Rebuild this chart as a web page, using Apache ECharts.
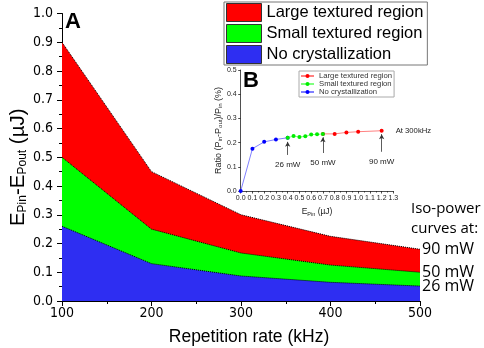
<!DOCTYPE html>
<html>
<head>
<meta charset="utf-8">
<script src="https://cdn.jsdelivr.net/npm/echarts@6/dist/echarts.min.js"></script>
<style>
html, body { margin: 0; padding: 0; background: #fff; }
#chart { width: 484px; height: 348px; }
</style>
</head>
<body>
<div id="chart"></div>
<script>
// panel A - iso-power boundaries (uJ) vs repetition rate (kHz)
var repRate = [100, 200, 300, 400, 500];
var largeTop = [0.9, 0.45, 0.3, 0.225, 0.18];
var smallTop = [0.5, 0.25, 0.167, 0.125, 0.1];
var noCrystTop = [0.26, 0.13, 0.087, 0.065, 0.052];
var isoLabels = ['90 mW', '50 mW', '26 mW'];
var regionNames = ['Large textured region', 'Small textured region', 'No crystallization'];

// panel B - ratio (%) vs pulse energy (uJ), at 300 kHz
var bNoE = [0, 0.1, 0.2, 0.3, 0.4];
var bNoR = [0, 0.175, 0.203, 0.213, 0.22];
var bSmallE = [0.4, 0.45, 0.5, 0.55, 0.6, 0.65, 0.7];
var bSmallR = [0.22, 0.227, 0.223, 0.226, 0.233, 0.234, 0.236];
var bLargeE = [0.7, 0.8, 0.9, 1.0, 1.2];
var bLargeR = [0.236, 0.236, 0.242, 0.245, 0.249];
var arrowE = [0.4, 0.7, 1.2];
var arrowFrom = [0.149, 0.157, 0.162];
var arrowTo = [0.203, 0.222, 0.235];
var arrowText = ['26 mW', '50 mW', '90 mW'];

var FONT = 'Liberation Sans';
var TICKFONT = '"Liberation Sans Narrow", "DejaVu Sans Condensed", "Liberation Sans"';

var chart = echarts.init(document.getElementById('chart'));

function areaSeries(name, vals, color, label, z) {
    return {
        name: name,
        type: 'line',
        xAxisIndex: 0,
        yAxisIndex: 0,
        data: repRate.map(function (x, i) { return [x, vals[i]]; }),
        symbol: 'none',
        color: color,
        lineStyle: { color: '#000', width: 1, type: 'dotted' },
        areaStyle: { color: color, opacity: 1 },
        endLabel: {
            show: true, formatter: label, distance: 2,
            fontFamily: 'Open Sans', fontSize: 16, color: '#000'
        },
        z: z
    };
}

function insetSeries(name, es, rs, dot, line, z) {
    return {
        name: 'B ' + name,
        type: 'line',
        xAxisIndex: 1,
        yAxisIndex: 1,
        data: es.map(function (e, i) { return [e, rs[i]]; }),
        symbol: 'circle',
        symbolSize: 4,
        itemStyle: { color: dot },
        lineStyle: { color: line, width: 1 },
        z: z
    };
}

var insetLarge = insetSeries(regionNames[0], bLargeE, bLargeR, '#ff0000', '#ff8080', 10);
// last point carries the note
insetLarge.data[insetLarge.data.length - 1] = {
    value: insetLarge.data[insetLarge.data.length - 1],
    label: { show: true, position: 'right', distance: 12, formatter: 'At 300kHz', fontFamily: FONT, fontSize: 7.7, color: '#222' }
};
insetLarge.markLine = {
    silent: true,
    symbol: ['none', 'arrow'],
    symbolSize: [4, 5],
    lineStyle: { color: '#333', width: 0.8, type: 'solid' },
    label: { show: true, position: 'start', distance: 6, formatter: '{b}', fontFamily: FONT, fontSize: 8, color: '#222' },
    data: arrowE.map(function (e, i) {
        return [{ name: arrowText[i], coord: [e, arrowFrom[i]] }, { coord: [e, arrowTo[i]] }];
    })
};

var axisBlack = { lineStyle: { color: '#000', width: 1 } };

chart.setOption({
    animation: false,
    textStyle: { fontFamily: FONT },
    grid: [
        { left: 62, right: 64, top: 13.5, bottom: 47, outerBoundsMode: 'none', containLabel: false },
        { left: 240.7, right: 90.6, top: 70, bottom: 157, outerBoundsMode: 'none', containLabel: false }
    ],
    legend: [{
        orient: 'vertical',
        left: 224, top: 2,
        data: regionNames,
        icon: 'rect',
        itemWidth: 35, itemHeight: 18, itemGap: 2,
        padding: [1, 4, 1, 2],
        borderColor: '#777', borderWidth: 1,
        itemStyle: { borderColor: '#333', borderWidth: 1 },
        textStyle: { fontSize: 16.5, color: '#000', fontFamily: FONT },
        selectedMode: false
    }, {
        orient: 'vertical',
        left: 299, top: 71,
        data: regionNames.map(function (n) { return 'B ' + n; }),
        formatter: function (n) { return n.replace(/^B /, ''); },
        itemWidth: 13, itemHeight: 5, itemGap: 0,
        padding: [1, 2, 1, 1],
        borderColor: '#aaa', borderWidth: 1,
        textStyle: { fontSize: 7.7, lineHeight: 8, color: '#333', fontFamily: FONT },
        selectedMode: false
    }],
    xAxis: [{
        type: 'value', gridIndex: 0,
        min: 100, max: 500, interval: 100,
        axisLine: axisBlack,
        axisTick: { length: 5, lineStyle: { color: '#000' } },
        minorTick: { show: true, splitNumber: 2, length: 3, lineStyle: { color: '#000' } },
        splitLine: { show: false },
        axisLabel: { fontSize: 14, color: '#000', margin: 5, fontFamily: TICKFONT },
        name: 'Repetition rate (kHz)',
        nameLocation: 'middle',
        nameGap: 27,
        nameTextStyle: { fontSize: 17.5, color: '#000', padding: [0, 0, 0, 16] }
    }, {
        type: 'value', gridIndex: 1,
        min: 0, max: 1.3, interval: 0.1,
        axisLine: { lineStyle: { color: '#222', width: 0.8 } },
        axisTick: { length: 2.5, lineStyle: { color: '#222', width: 0.8 } },
        minorTick: { show: true, splitNumber: 2, length: 1.5, lineStyle: { color: '#222', width: 0.8 } },
        splitLine: { show: false },
        axisLabel: { fontSize: 7, color: '#222', margin: 4, formatter: function (v) { return v.toFixed(1); } },
        name: '{n|E}{s|Pin}{n| (µJ)}',
        nameLocation: 'middle',
        nameGap: 16,
        nameTextStyle: {
            rich: {
                n: { fontSize: 8.5, color: '#222', fontFamily: FONT },
                s: { fontSize: 5.5, color: '#222', fontFamily: FONT, verticalAlign: 'bottom', padding: [4, 0, 0, 0] }
            }
        }
    }],
    yAxis: [{
        type: 'value', gridIndex: 0,
        min: 0, max: 1, interval: 0.1,
        axisLine: axisBlack,
        axisTick: { length: 5, lineStyle: { color: '#000' } },
        minorTick: { show: true, splitNumber: 2, length: 3, lineStyle: { color: '#000' } },
        splitLine: { show: false },
        axisLabel: { fontSize: 14, color: '#000', margin: 9, fontFamily: TICKFONT, formatter: function (v) { return v.toFixed(1); } },
        name: '{n|E}{s|Pin}{n|-E}{s|Pout}{n| (µJ)}',
        nameLocation: 'middle',
        nameRotate: 90,
        nameGap: 33,
        nameMoveOverlap: false,
        nameTextStyle: {
            padding: [0, 20, 0, 0],
            rich: {
                n: { fontSize: 20.5, color: '#000', fontFamily: FONT },
                s: { fontSize: 12, color: '#000', fontFamily: FONT, verticalAlign: 'bottom', padding: [9, 0, 0, 0] }
            }
        }
    }, {
        type: 'value', gridIndex: 1,
        min: 0, max: 0.5, interval: 0.1,
        axisLine: { lineStyle: { color: '#222', width: 0.8 } },
        axisTick: { length: 2.5, lineStyle: { color: '#222', width: 0.8 } },
        splitLine: { show: false },
        axisLabel: { fontSize: 7, color: '#222', margin: 4, formatter: function (v) { return v.toFixed(1); } },
        name: '{n|Ratio (P}{s|in}{n|-P}{s|out}{n|)/P}{s|in}{n| (%)}',
        nameLocation: 'middle',
        nameRotate: 90,
        nameGap: 15,
        nameTextStyle: {
            rich: {
                n: { fontSize: 9, color: '#222', fontFamily: FONT },
                s: { fontSize: 6, color: '#222', fontFamily: FONT, verticalAlign: 'bottom', padding: [4, 0, 0, 0] }
            }
        }
    }],
    graphic: [
        { type: 'text', left: 65, top: 11, style: { text: 'A', font: 'bold 22px "Liberation Sans"', fill: '#000' } },
        { type: 'text', left: 243, top: 70, style: { text: 'B', font: 'bold 22px "Liberation Sans"', fill: '#000' } },
        { type: 'text', left: 411, top: 201, style: { text: 'Iso-power', font: '15px "Open Sans"', fill: '#000' } },
        { type: 'text', left: 411, top: 221, style: { text: 'curves at:', font: '15px "Open Sans"', fill: '#000' } }
    ],
    series: [
        areaSeries(regionNames[0], largeTop, '#ff0000', isoLabels[0], 2),
        areaSeries(regionNames[1], smallTop, '#00ff00', isoLabels[1], 3),
        areaSeries(regionNames[2], noCrystTop, '#2e2ef2', isoLabels[2], 4),
        insetSeries(regionNames[2], bNoE, bNoR, '#0000ff', '#8080ff', 9),
        insetLarge,
        insetSeries(regionNames[1], bSmallE, bSmallR, '#00ee00', '#80ff80', 11)
    ]
});
</script>
</body>
</html>
